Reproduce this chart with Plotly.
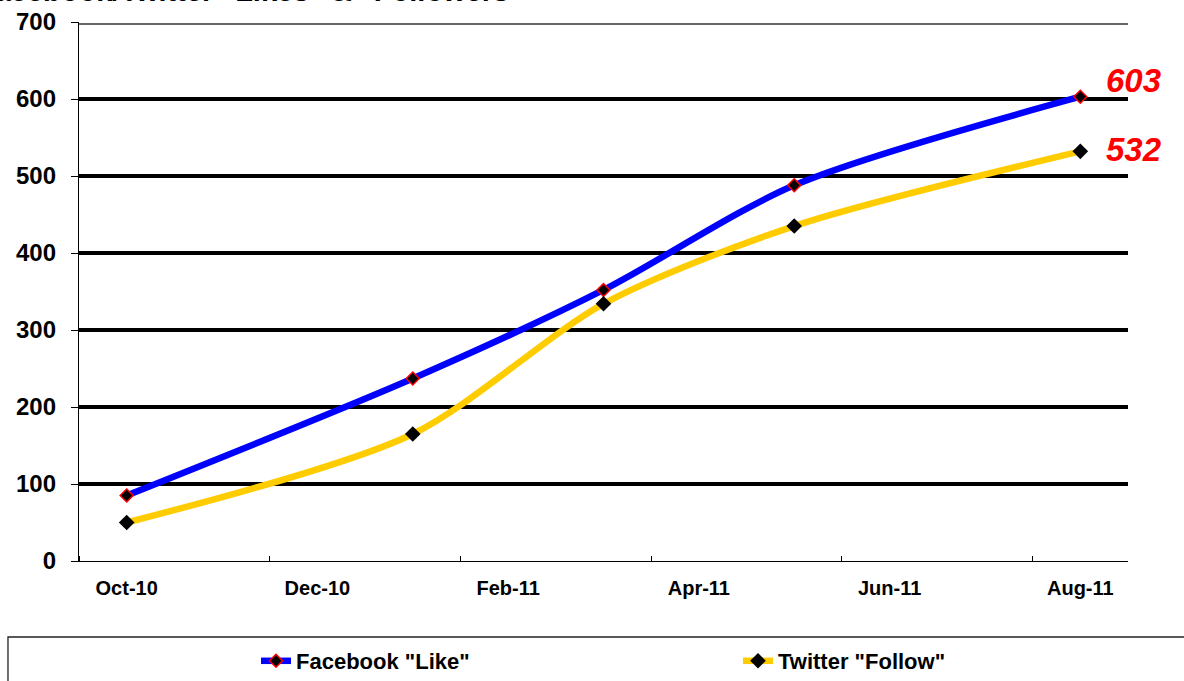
import plotly.graph_objects as go
import pandas as pd

# ---- data ----
months = ["Oct-10", "Jan-11", "Mar-11", "May-11", "Aug-11"]
facebook_like = [85, 237, 352, 488, 603]
twitter_follow = [50, 165, 334, 435, 532]
tick_labels = ["Oct-10", "Dec-10", "Feb-11", "Apr-11", "Jun-11", "Aug-11"]
grid_values = [100, 200, 300, 400, 500, 600]
title_text = 'Facebook/Twitter "Likes" & "Followers"'

start = pd.Timestamp("2010-10-01")


def month_slot(label):
    d = pd.to_datetime(label, format="%b-%y")
    return (d.year - start.year) * 12 + (d.month - start.month)


x_pts = [month_slot(m) + 0.5 for m in months]
tick_pos = [month_slot(t) + 0.5 for t in tick_labels]
minor_pos = [month_slot(t) for t in tick_labels]

FONT = "Liberation Sans, Arial, sans-serif"

fig = go.Figure()
fig.add_trace(go.Scatter(
    x=x_pts, y=facebook_like, name='Facebook "Like"', mode="lines+markers",
    line=dict(color="#0000FF", width=6.5, shape="spline", smoothing=0.8),
    marker=dict(symbol="diamond", size=10, color="black",
                line=dict(color="#FF0000", width=1.5)),
    legend="legend",
))
fig.add_trace(go.Scatter(
    x=x_pts, y=twitter_follow, name='Twitter "Follow"', mode="lines+markers",
    line=dict(color="#FFCC00", width=6.5, shape="spline", smoothing=0.8),
    marker=dict(symbol="diamond", size=12, color="black"),
    legend="legend2",
))

shapes = []
for g in grid_values:
    shapes.append(dict(type="line", xref="paper", yref="y", x0=0, x1=1, y0=g, y1=g,
                       line=dict(color="black", width=4), layer="below"))
# double top border
for off in (2, -2):
    shapes.append(dict(type="line", xref="paper", yref="y", ysizemode="pixel",
                       yanchor=700, x0=0, x1=1, y0=off, y1=off,
                       line=dict(color="#333333", width=1.3), layer="below"))
# legend frame
shapes.append(dict(type="rect", xref="paper", yref="paper",
                   x0=-0.0677, x1=1.08, y0=-0.3, y1=-0.141,
                   line=dict(color="#222222", width=1.3), fillcolor="rgba(0,0,0,0)"))

annotations = []
for series in (facebook_like, twitter_follow):
    annotations.append(dict(
        x=x_pts[-1], y=series[-1], xref="x", yref="y", text=str(series[-1]),
        showarrow=False, xanchor="left", yanchor="middle", xshift=24,
        yshift=16 if series is facebook_like else 2,
        font=dict(family=FONT, size=33, color="#FF0000", weight="bold", style="italic"),
    ))
annotations.append(dict(
    x=(525 - 79) / 1049, y=(561 - 9) / 539, xref="paper", yref="paper",
    text=title_text, showarrow=False, xanchor="right", yanchor="bottom",
    font=dict(family=FONT, size=29, color="black", weight="bold"),
))

legend_common = dict(orientation="h", xanchor="left",
                     y=(561 - 661) / 539, yanchor="middle",
                     font=dict(family=FONT, size=22, color="black", weight="bold"),
                     bgcolor="rgba(0,0,0,0)", borderwidth=0)

fig.update_layout(
    width=1184, height=681,
    margin=dict(l=79, r=56, t=22, b=120, autoexpand=False),
    paper_bgcolor="white", plot_bgcolor="white",
    font=dict(family=FONT, color="black"),
    showlegend=True,
    legend=dict(x=(256 - 79) / 1049, **legend_common),
    legend2=dict(x=(738 - 79) / 1049, **legend_common),
    shapes=shapes,
    annotations=annotations,
)
fig.update_xaxes(
    range=[0, 11], showgrid=False, zeroline=False,
    showline=True, linecolor="black", linewidth=1.3,
    tickmode="array", tickvals=tick_pos, ticktext=tick_labels, ticks="",
    tickfont=dict(family=FONT, size=20, color="black", weight="bold"),
    ticklabelstandoff=9,
    minor=dict(tickmode="array", tickvals=minor_pos, ticks="inside", ticklen=5,
               tickcolor="black", tickwidth=1, showgrid=False),
)
fig.update_yaxes(
    range=[0, 700], dtick=100, tick0=0, showgrid=False, zeroline=False,
    showline=True, linecolor="black", linewidth=1.3,
    ticks="outside", ticklen=7, tickcolor="black", tickwidth=1,
    tickfont=dict(family=FONT, size=24, color="black", weight="bold"),
    ticklabelstandoff=10,
)

fig.write_html("out.html")
